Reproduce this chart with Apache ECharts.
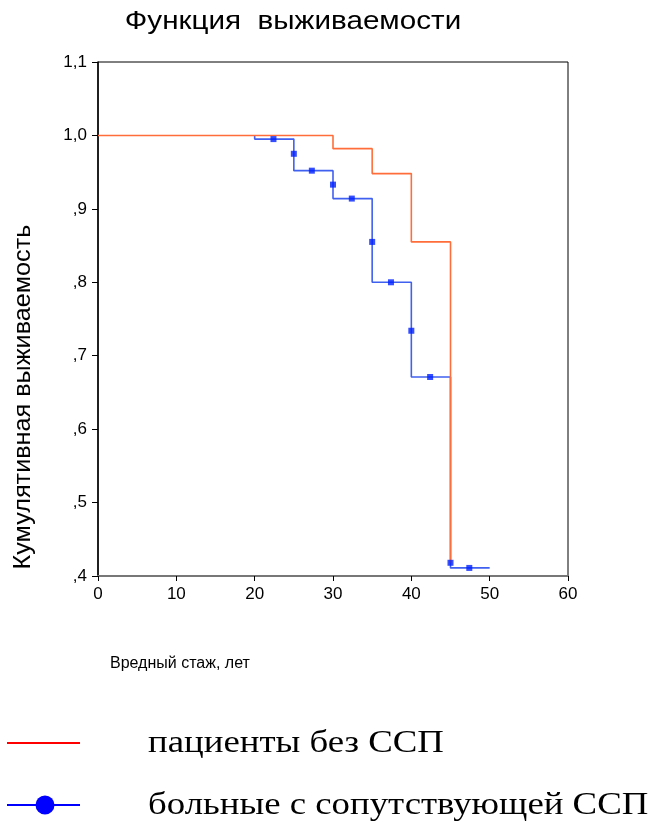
<!DOCTYPE html>
<html>
<head>
<meta charset="utf-8">
<script src="https://cdn.jsdelivr.net/npm/echarts@6/dist/echarts.min.js"></script>
<style>
    html, body { margin: 0; padding: 0; background: #fff; }
    #main-chart { width: 657px; height: 825px; }
</style>
</head>
<body>
<div id="main-chart"></div>
<script>
// пациенты без ССП: [стаж, выживаемость]
var noSspTimes = [0, 30, 35, 40, 45];
var noSspSurv = [1.0, 0.982, 0.948, 0.855, 0.418];

// больные с сопутствующей ССП
var sspTimes = [20, 20, 25, 30, 35, 40, 45, 50];
var sspSurv = [1.0, 0.995, 0.952, 0.914, 0.800, 0.671, 0.411, 0.411];

// цензурированные наблюдения
var censTimes = [22.4, 25, 27.3, 30, 32.4, 35, 37.4, 40, 42.4, 45, 47.4];
var censSurv = [0.995, 0.975, 0.952, 0.933, 0.914, 0.855, 0.800, 0.734, 0.671, 0.418, 0.411];

var yTicks = {'1.1': '1,1', '1': '1,0', '0.9': ',9', '0.8': ',8', '0.7': ',7', '0.6': ',6', '0.5': ',5', '0.4': ',4'};

var legendNames = ['пациенты без ССП', 'больные с сопутствующей ССП'];

function zip(a, b) {
    var out = [];
    for (var i = 0; i < a.length; i++) {
        out.push([a[i], b[i]]);
    }
    return out;
}

var myChart = echarts.init(document.getElementById('main-chart'));

var sans = 'Liberation Sans';
var serif = 'Liberation Serif';

var option = {
    animation: false,
    grid: {
        left: 98, right: 89, top: 62, bottom: 249,
        show: true, borderColor: '#000', borderWidth: 1
    },
    xAxis: {
        type: 'value',
        min: 0, max: 60, interval: 10,
        axisLine: { lineStyle: { color: '#777', width: 2 } },
        axisTick: { length: 5, lineStyle: { color: '#000' } },
        axisLabel: { margin: 10, fontFamily: sans, fontSize: 17, color: '#000' },
        splitLine: { show: false }
    },
    yAxis: {
        type: 'value',
        min: 0.4, max: 1.1, interval: 0.1,
        axisLine: { show: true, lineStyle: { color: '#000', width: 1.5 } },
        axisTick: { show: true, length: 6, lineStyle: { color: '#000' } },
        axisLabel: {
            margin: 11, fontFamily: sans, fontSize: 17, color: '#000',
            formatter: function (v) {
                return yTicks[String(Math.round(v * 10) / 10)];
            }
        },
        splitLine: { show: false }
    },
    graphic: [
        // заголовок
        {
            type: 'text', x: 293, y: 22, scaleX: 1.14,
            style: { text: 'Функция  выживаемости', fontFamily: sans, fontSize: 26,
                     fill: '#000', align: 'center', verticalAlign: 'middle' }
        },
        {
            type: 'text', x: 23, y: 397, rotation: Math.PI / 2, scaleX: 1.05,
            style: { text: 'Кумулятивная выживаемость', fontFamily: sans, fontSize: 24,
                     fill: '#000', align: 'center', verticalAlign: 'middle' }
        },
        {
            type: 'text', x: 110, y: 664,
            style: { text: 'Вредный стаж, лет', fontFamily: sans, fontSize: 16,
                     fill: '#000', align: 'left', verticalAlign: 'middle' }
        },
        // легенда
        {
            type: 'line', shape: { x1: 7, y1: 743, x2: 80, y2: 743 },
            style: { stroke: '#FF0000', lineWidth: 2 }
        },
        {
            type: 'text', x: 148, y: 744, scaleX: 1.15,
            style: { text: legendNames[0], fontFamily: serif, fontSize: 32,
                     fill: '#000', align: 'left', verticalAlign: 'middle' }
        },
        {
            type: 'line', shape: { x1: 7, y1: 805, x2: 80, y2: 805 },
            style: { stroke: '#0000FF', lineWidth: 2 }
        },
        {
            type: 'circle', shape: { cx: 45, cy: 805, r: 9.5 },
            style: { fill: '#0000FF' }
        },
        {
            type: 'text', x: 148, y: 806, scaleX: 1.15,
            style: { text: legendNames[1], fontFamily: serif, fontSize: 32,
                     fill: '#000', align: 'left', verticalAlign: 'middle' }
        }
    ],
    series: [
        {
            name: 'noSsp',
            type: 'line',
            step: 'end',
            symbol: 'none',
            data: zip(noSspTimes, noSspSurv),
            lineStyle: { color: '#FF6E3A', width: 1.6 },
            z: 3
        },
        {
            name: 'ssp',
            type: 'line',
            step: 'end',
            symbol: 'none',
            data: zip(sspTimes, sspSurv),
            lineStyle: { color: '#4060F0', width: 1.6 },
            z: 2
        },
        {
            name: 'cens',
            type: 'scatter',
            symbol: 'rect',
            symbolSize: 6,
            data: zip(censTimes, censSurv),
            itemStyle: { color: '#0020FF' },
            z: 4
        }
    ]
};

myChart.setOption(option);
</script>
</body>
</html>
